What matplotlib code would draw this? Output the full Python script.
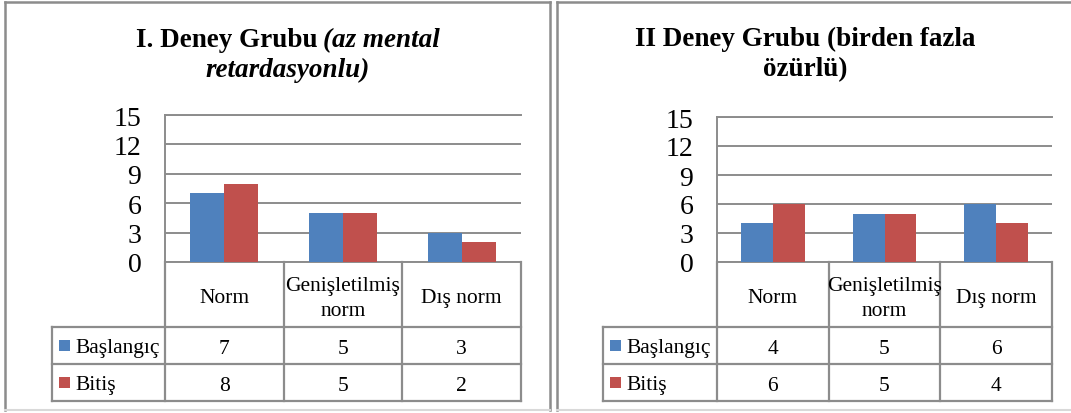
import matplotlib.pyplot as plt
from matplotlib.patches import Rectangle
import numpy as np

# veriler
kategoriler = ['Norm', 'Genişletilmiş\nnorm', 'Dış norm']
seriler = ['Başlangıç', 'Bitiş']
grup1_baslangic = [7, 5, 3]
grup1_bitis = [8, 5, 2]
grup2_baslangic = [4, 5, 6]
grup2_bitis = [6, 5, 4]
y_ticks = [0, 3, 6, 9, 12, 15]

baslik1 = [[('I. Deney Grubu', 'normal'), ('(az mental', 'italic')],
           [('retardasyonlu)', 'italic')]]
baslik2 = [[('II Deney Grubu (birden fazla', 'normal')],
           [('özürlü)', 'normal')]]

W, H = 1071, 414
renkler = ['#4F81BD', '#C0504D']
gri = '#8C8C8C'
serif = ['Liberation Serif', 'DejaVu Serif']
plt.rcParams['font.family'] = serif

fig = plt.figure(figsize=(W / 100, H / 100), dpi=100)
bg = fig.add_axes([0, 0, 1, 1])
bg.set_xlim(0, W)
bg.set_ylim(H, 0)
bg.axis('off')
renderer = fig.canvas.get_renderer()


def cerceve(x0, x1, y0, y1):
    bg.plot([x0, x1], [y0, y0], color=gri, lw=1.8)
    bg.plot([x0, x0], [y0, y1], color=gri, lw=1.8)
    bg.plot([x1, x1], [y0, y1], color=gri, lw=1.8)
    bg.plot([x0, x1], [y1, y1], color='#D9D9D9', lw=1.5)


def baslik(satirlar, cx, baselines):
    for satir, yb in zip(satirlar, baselines):
        parcalar = []
        for metin, stil in satir:
            t = bg.text(0, yb, metin, fontsize=19.5, fontweight='bold',
                        fontstyle=stil, ha='left', va='baseline')
            parcalar.append(t)
        gap = 6
        genislik = [t.get_window_extent(renderer).width for t in parcalar]
        toplam = sum(genislik) + gap * (len(parcalar) - 1)
        x = cx - toplam / 2
        for t, w in zip(parcalar, genislik):
            t.set_x(x)
            x += w + gap


def panel(L, R, T, LL, baslangic, bitis):
    B, r0, r1, r2 = 263, 328, 365, 402
    ax = fig.add_axes([L / W, 1 - B / H, (R - L) / W, (B - T) / H])
    x = np.arange(len(kategoriler)) + 0.5
    bw = 0.286
    ax.bar(x - bw / 2, baslangic, bw, color=renkler[0], zorder=3)
    ax.bar(x + bw / 2, bitis, bw, color=renkler[1], zorder=3)
    ax.set_xlim(0, len(kategoriler))
    ax.set_ylim(0, 15)
    ax.set_yticks(y_ticks)
    ax.set_xticks([])
    ax.yaxis.grid(True, color=gri, lw=1.4)
    ax.set_axisbelow(True)
    ax.patch.set_alpha(0)
    ax.spines['right'].set_visible(False)
    for s in ['left', 'top', 'bottom']:
        ax.spines[s].set_color(gri)
        ax.spines[s].set_linewidth(1.4)
    ax.tick_params(axis='y', length=0, pad=17, labelsize=20)

    # veri tablosu
    n = len(kategoriler)
    cols = [L + i * (R - L) / n for i in range(n + 1)]
    for y in [r0, r1, r2]:
        bg.plot([LL, R], [y, y], color=gri, lw=1.6)
    bg.plot([LL, LL], [r0, r2], color=gri, lw=1.6)
    for cx in cols:
        bg.plot([cx, cx], [B, r2], color=gri, lw=1.6)
    for i, kat in enumerate(kategoriler):
        mx = (cols[i] + cols[i + 1]) / 2
        satirlar = kat.split('\n')
        for k, s in enumerate(satirlar):
            yb = 303.5 - (len(satirlar) - 1) * 12.5 + k * 25
            bg.text(mx, yb, s, fontsize=15.5, ha='center', va='baseline')
    for j, (ad, vals) in enumerate(zip(seriler, [baslangic, bitis])):
        ya, yb_ = [r0, r1][j], [r1, r2][j]
        yc = (ya + yb_) / 2
        bg.add_patch(Rectangle((LL + 7, yc - 6), 11, 11, color=renkler[j], lw=0))
        bg.text(LL + 23, yc + 7, ad, fontsize=15.5, ha='left', va='baseline')
        for i, v in enumerate(vals):
            mx = (cols[i] + cols[i + 1]) / 2
            bg.text(mx, yc + 7.5, str(v), fontsize=15.5, ha='center', va='baseline')


cerceve(5, 550, 3, 411)
cerceve(557, 1090, 3, 411)
baslik(baslik1, 288, [47, 77])
baslik(baslik2, 805, [46, 76])
panel(165, 521, 116, 52, grup1_baslangic, grup1_bitis)
panel(717, 1052, 118, 603, grup2_baslangic, grup2_bitis)

fig.savefig('out.png', dpi=100)
